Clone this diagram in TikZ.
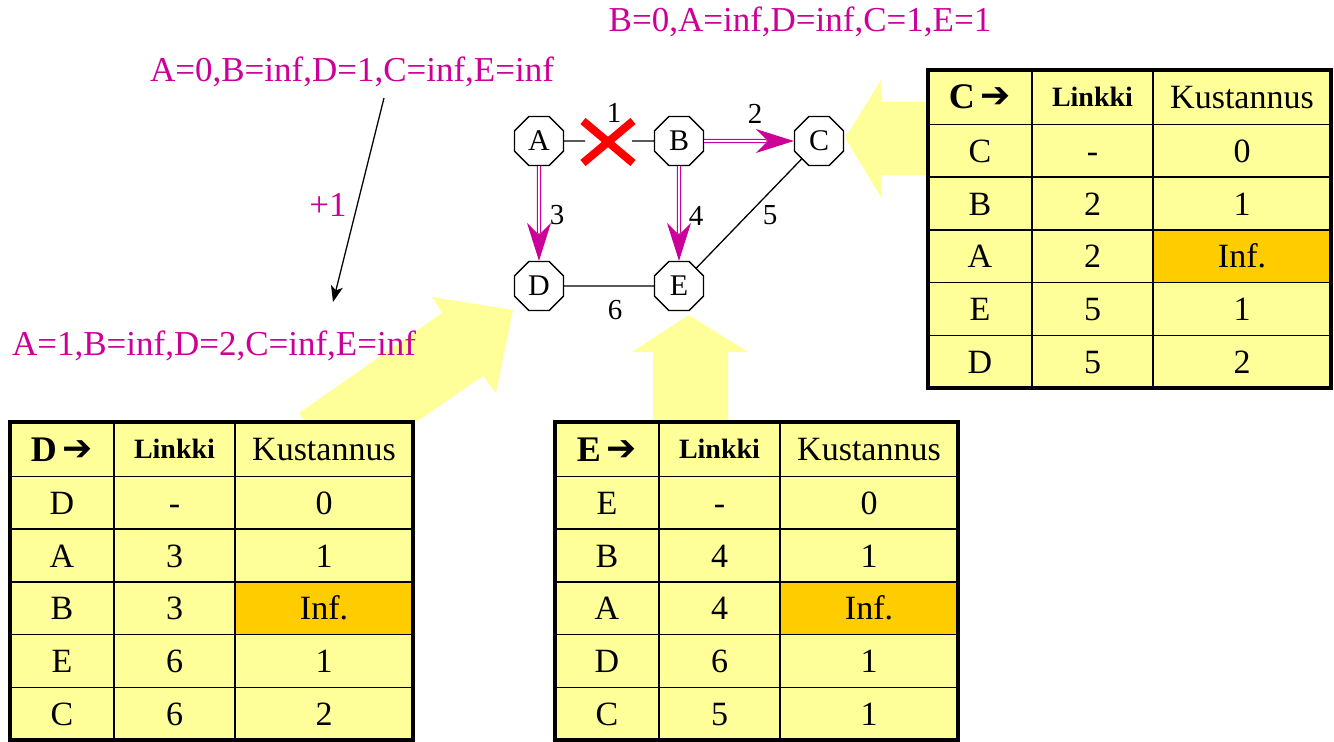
\documentclass[tikz,border=0pt]{standalone}
\usepackage{fontspec}
\setmainfont{Liberation Serif}
\newfontfamily\dejavu{DejaVu Sans}
\usetikzlibrary{shapes.geometric,arrows.meta,calc}
\definecolor{mag}{RGB}{204,0,153}
\definecolor{yfill}{RGB}{255,255,153}
\definecolor{ofill}{RGB}{255,204,0}
\newcommand\fs[1]{\fontsize{#1}{#1}\selectfont}
\tikzset{
  cell/.style={draw, line width=1.5pt, fill=yfill, anchor=north west, minimum height=52.7, inner sep=0pt, outer sep=0pt, font=\fs{34}, text height=23pt, text depth=0pt},
  hcell/.style={cell, text height=, text depth=},
  oct/.style={regular polygon, regular polygon sides=8, draw, line width=1.3pt, fill=white, minimum size=53, inner sep=0pt, font=\fs{30}},
  elabel/.style={font=\fs{29}},
  mlabel/.style={text=mag, font=\fs{35}},
  dblline/.style={draw=mag, double=white, double distance=1.6pt, line width=1.3pt, shorten >=28pt},
  headline/.style={draw=mag, line width=1.3pt, -{Stealth[length=38pt,width=24pt,inset=12pt]}},
  thin/.style={draw=black, line width=1.3pt},
  xmark/.style={draw=red, line width=8pt},
  bigarrow/.style={fill=yfill, draw=none},
}
\newcommand\mytable[5]{%
  \node[hcell, minimum width=104, minimum height=54.5] (#1-0-1) at (#2,#3) {\fs{36}\bfseries #4\,{\dejavu\fs{36}\raisebox{1pt}{➔}}};
  \node[hcell, minimum width=121, minimum height=54.5] (#1-0-2) at (#1-0-1.north east) {\fs{28}\bfseries Linkki};
  \node[hcell, minimum width=178, minimum height=54.5] (#1-0-3) at (#1-0-2.north east) {Kustannus};
  \foreach \a/\b/\c/\f [count=\i] in {#5} {
    \pgfmathtruncatemacro\p{\i-1}
    \node[cell, minimum width=104] (#1-\i-1) at (#1-\p-1.south west) {\a};
    \node[cell, minimum width=121] (#1-\i-2) at (#1-\i-1.north east) {\b};
    \node[cell, minimum width=178, fill=\f] (#1-\i-3) at (#1-\i-2.north east) {\c};
  }
  \draw[line width=4pt] (#1-0-1.north west) rectangle (#1-5-3.south east);
}
\begin{document}
\begin{tikzpicture}[x=1pt,y=-1pt]
\useasboundingbox (0,0) rectangle (1334,742);
% big yellow arrows
\fill[bigarrow] (935,102) -- (881,102) -- (881,80) -- (845,138) -- (881,197) -- (881,175) -- (935,175) -- cycle;
\fill[bigarrow] (653,430) -- (653,352) -- (632,352) -- (689,315) -- (748,352) -- (728,352) -- (728,430) -- cycle;
\fill[bigarrow] (299,413) -- (442,313) -- (432,297) -- (513,310) -- (496,393) -- (483,376) -- (338,476) -- cycle;
% graph nodes
\node[oct] (A) at (539,141) {A};
\node[oct] (B) at (679,141) {B};
\node[oct] (C) at (819,141) {C};
\node[oct] (D) at (539,286) {D};
\node[oct] (E) at (679,286) {E};
\coordinate (xl) at (585,141);
\coordinate (xr) at (632,141);
\coordinate (X) at (608,142);
\draw[thin] (A) -- (xl);
\draw[thin] (xr) -- (B);
\draw[thin] (C) -- (E);
\draw[thin] (D) -- (E);
\draw[headline] (B) -- (C);
\draw[dblline] (B) -- (C);
\draw[headline] (A) -- (D);
\draw[dblline] (A) -- (D);
\draw[headline] (B) -- (E);
\draw[dblline] (B) -- (E);
\draw[xmark] ($(X)+(-25,-21)$) -- ($(X)+(25,21)$);
\draw[xmark] ($(X)+(-25,21)$) -- ($(X)+(25,-21)$);
\node[elabel] (l1) at (614,113) {1};
\node[elabel] (l2) at (755,114) {2};
\node[elabel] (l3) at (557,215) {3};
\node[elabel] (l4) at (696,216) {4};
\node[elabel] (l5) at (770,215) {5};
\node[elabel] (l6) at (615,310) {6};
% labels
\node[mlabel] (tB) at (800,22) {B=0,A=inf,D=inf,C=1,E=1};
\node[mlabel] (tA0) at (352,72) {A=0,B=inf,D=1,C=inf,E=inf};
\node[mlabel] (plus) at (328,205) {+1};
\node[mlabel] (tA1) at (214,346) {A=1,B=inf,D=2,C=inf,E=inf};
\coordinate (bs) at (384,98);
\coordinate (be) at (333,302);
\draw[line width=1.3pt, -{Stealth[length=16pt,width=12pt,inset=4pt]}] (bs) -- (be);
% tables
\mytable{tc}{928}{70}{C}{C/-/0/yfill, B/2/1/yfill, A/2/Inf./ofill, E/5/1/yfill, D/5/2/yfill}
\mytable{td}{10}{422}{D}{D/-/0/yfill, A/3/1/yfill, B/3/Inf./ofill, E/6/1/yfill, C/6/2/yfill}
\mytable{te}{555}{422}{E}{E/-/0/yfill, B/4/1/yfill, A/4/Inf./ofill, D/6/1/yfill, C/5/1/yfill}
\end{tikzpicture}
\end{document}
